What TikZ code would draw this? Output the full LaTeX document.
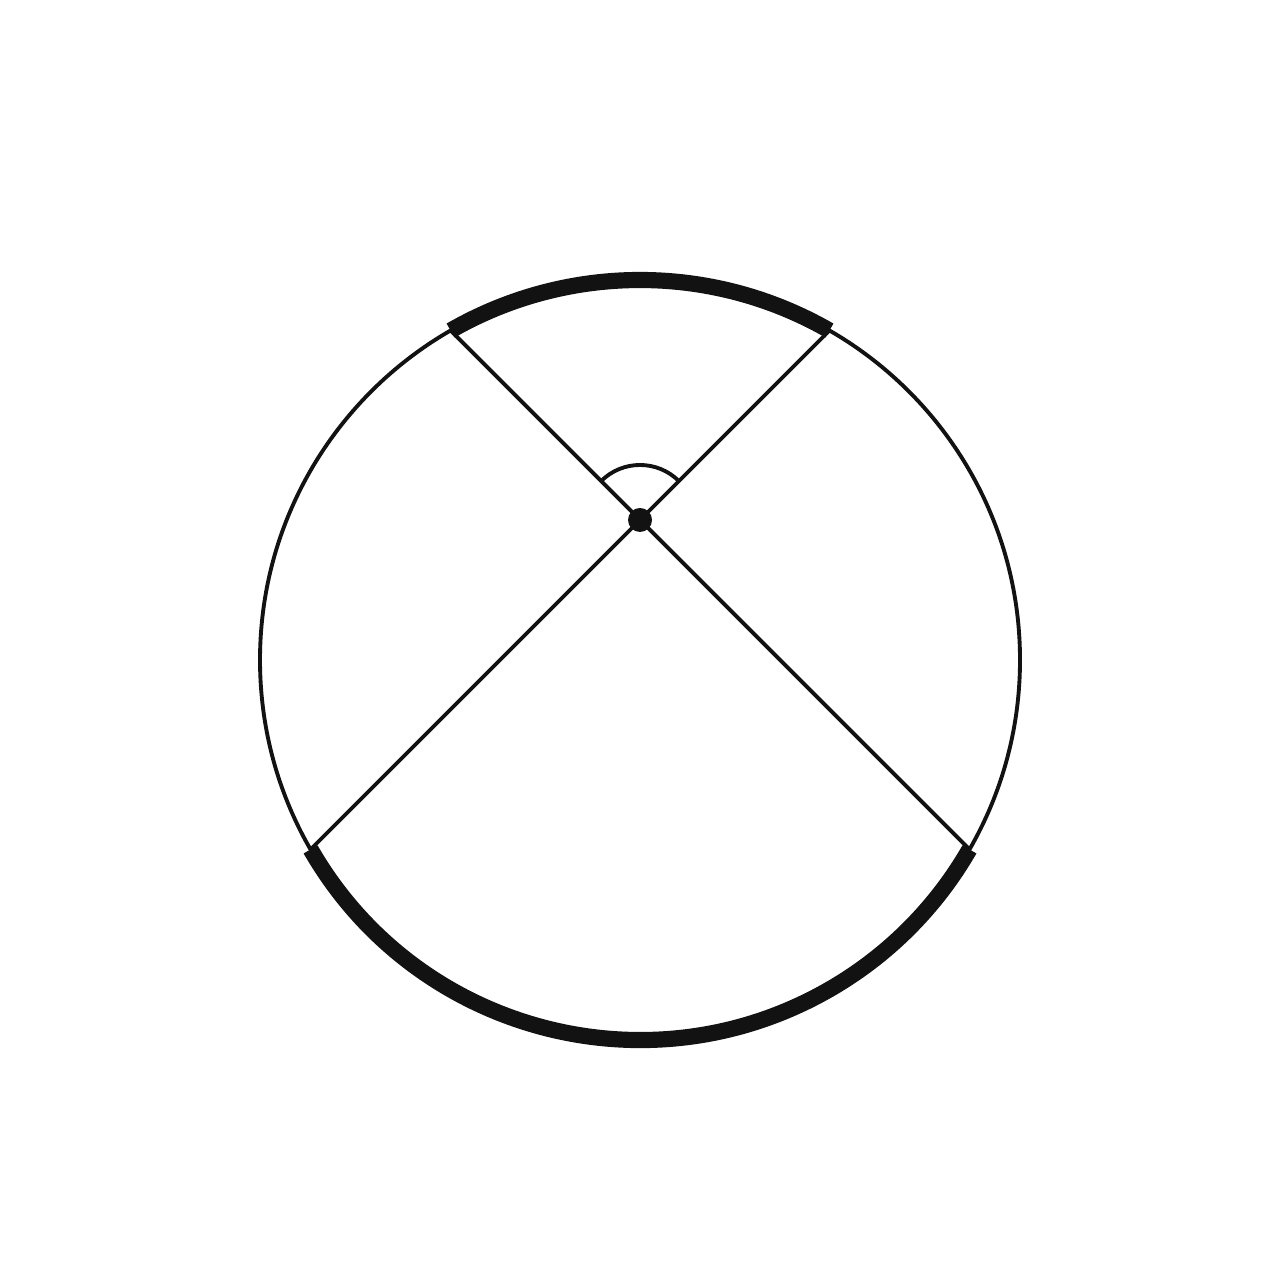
\documentclass[tikz,border=0pt]{standalone}
\usetikzlibrary{calc}
\begin{document}
\begin{tikzpicture}[x=1cm,y=1cm,
  thinline/.style={line width=1.1pt,draw=black!93},
  thickarc/.style={line width=4.6pt,draw=black!93}]
\useasboundingbox (0,0) rectangle (12.8,12.8);
\coordinate (O) at (6.4,6.2);
\coordinate (P) at (6.4,7.6);
\coordinate (A) at ($(O)+(119.9:3.8)$);
\coordinate (B) at ($(O)+(60.1:3.8)$);
\coordinate (C) at ($(O)+(-29.9:3.8)$);
\coordinate (D) at ($(O)+(209.9:3.8)$);
\draw[thinline] (O) circle[radius=3.8];
\draw[thickarc] (A) arc[start angle=119.9,end angle=60.1,radius=3.8];
\draw[thickarc] (D) arc[start angle=209.9,end angle=330.1,radius=3.8];
\draw[thinline] (A) -- (C);
\draw[thinline] (B) -- (D);
\draw[thinline] ($(P)+(45:0.55)$) arc[start angle=45,end angle=135,radius=0.55];
\fill[black!93] (P) circle[radius=0.12];
\end{tikzpicture}
\end{document}
